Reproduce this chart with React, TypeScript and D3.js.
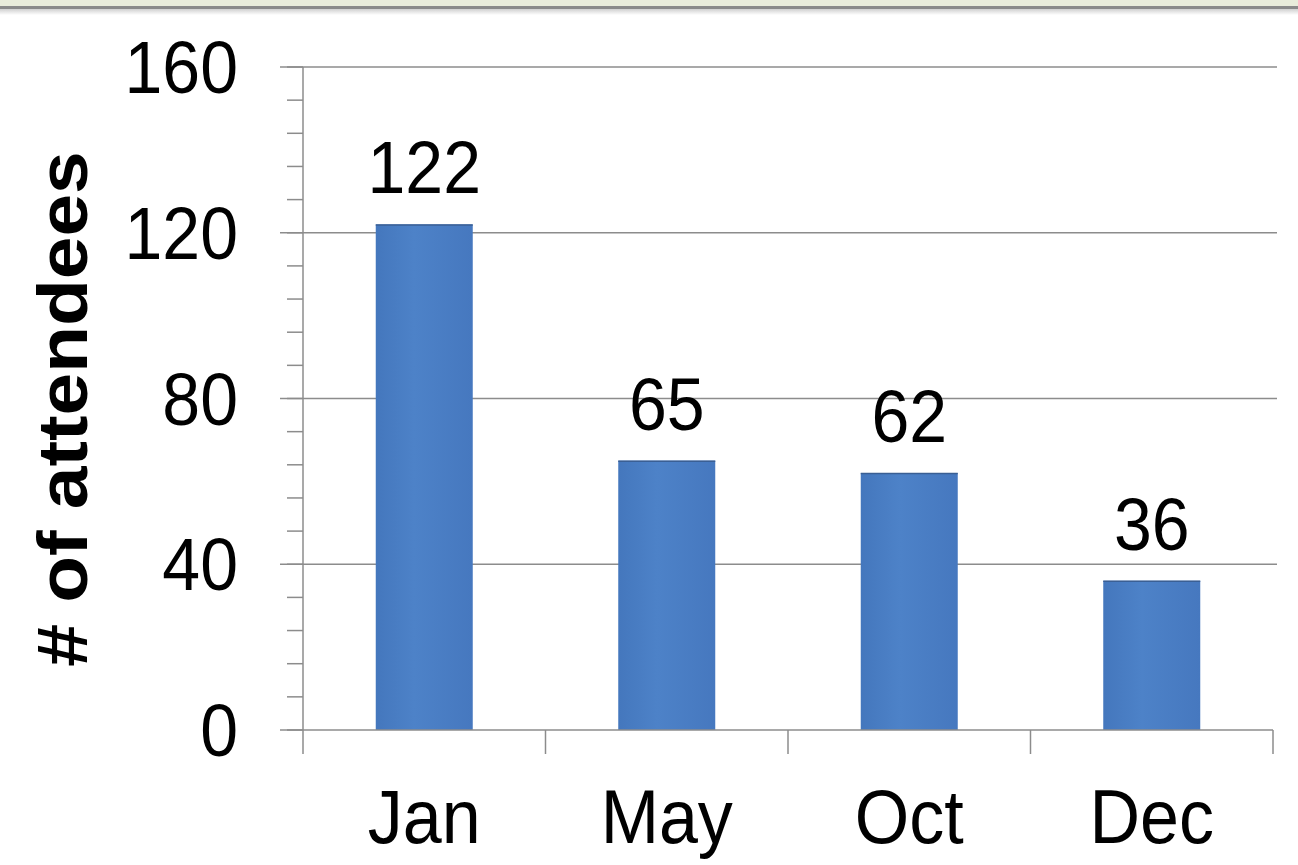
import React from "react";
import * as d3 from "d3";

const categories = ["Jan", "May", "Oct", "Dec"];
const attendees = [122, 65, 62, 36];
const yTicks = [0, 40, 80, 120, 160];
const yMinorTicks = d3.range(0, 161, 8);
const yTitle = "# of attendees";

const W = 1298;
const H = 865;
const FONT = "'Liberation Sans', Arial, sans-serif";
const SY = 1.08;

export default function App() {
  const x0 = 303, x1 = 1273, yBottom = 730, yTop = 67;
  const x = d3.scaleBand<string>().domain(categories).range([x0, x1]).paddingInner(0.6).paddingOuter(0.3);
  const y = d3.scaleLinear().domain([0, 160]).range([yBottom, yTop]);
  const step = x.step();
  const gridColor = "#8c8c8c";
  const barColor = "#4a7dc2";

  return (
    <svg width={W} height={H} style={{ position: "absolute", left: 0, top: 0, background: "#fff" }}>
      <defs>
        <linearGradient id="barGrad" x1="0" x2="1" y1="0" y2="0">
          <stop offset="0%" stopColor="#4477bd" />
          <stop offset="40%" stopColor="#4d82c8" />
          <stop offset="100%" stopColor="#4678bf" />
        </linearGradient>
        <linearGradient id="shadow" x1="0" x2="0" y1="0" y2="1">
          <stop offset="0%" stopColor="#d0d0d0" />
          <stop offset="100%" stopColor="#ffffff" />
        </linearGradient>
      </defs>
      {/* top frame strip */}
      <rect x={0} y={0} width={W} height={6} fill="#e9ecdb" />
      <rect x={0} y={6} width={W} height={3} fill="#8a8a8a" />
      <rect x={0} y={9} width={W} height={6} fill="url(#shadow)" />

      {/* gridlines */}
      {yTicks.filter((t) => t > 0).map((t) => (
        <line key={"g" + t} x1={x0} x2={1277} y1={y(t)} y2={y(t)} stroke={gridColor} strokeWidth={1.5} />
      ))}
      {/* minor ticks */}
      {yMinorTicks.map((t) => (
        <line key={"m" + t} x1={287} x2={x0} y1={y(t)} y2={y(t)} stroke={gridColor} strokeWidth={1.5} />
      ))}
      {/* major ticks */}
      {yTicks.map((t) => (
        <line key={"t" + t} x1={280} x2={x0} y1={y(t)} y2={y(t)} stroke={gridColor} strokeWidth={1.5} />
      ))}

      {/* bars */}
      {categories.map((c, i) => (
        <g key={c}>
          <rect x={x(c)} y={y(attendees[i])} width={x.bandwidth()} height={yBottom - y(attendees[i])} fill="url(#barGrad)" />
          <line x1={x(c)} x2={(x(c) as number) + x.bandwidth()} y1={y(attendees[i]) + 0.5} y2={y(attendees[i]) + 0.5} stroke="#3a5f94" strokeWidth={1.5} />
        </g>
      ))}

      {/* axes */}
      <line x1={x0} x2={x0} y1={yTop} y2={yBottom} stroke={gridColor} strokeWidth={1.5} />
      <line x1={x0} x2={x1} y1={yBottom} y2={yBottom} stroke={gridColor} strokeWidth={1.5} />
      {d3.range(categories.length + 1).map((i) => (
        <line key={"xt" + i} x1={x0 + i * step} x2={x0 + i * step} y1={yBottom} y2={754} stroke={gridColor} strokeWidth={1.5} />
      ))}

      {/* y tick labels */}
      {yTicks.map((t) => (
        <text key={"yl" + t} transform={`translate(238,${y(t) + 26}) scale(1,${SY})`} textAnchor="end" fontFamily={FONT} fontSize={68} fill="#000">
          {t}
        </text>
      ))}

      {/* value labels */}
      {categories.map((c, i) => (
        <text key={"v" + c} transform={`translate(${(x(c) as number) + x.bandwidth() / 2},${y(attendees[i]) - 31}) scale(1,${SY})`} textAnchor="middle" fontFamily={FONT} fontSize={68} fill="#000">
          {attendees[i]}
        </text>
      ))}

      {/* category labels */}
      {categories.map((c) => (
        <text key={"c" + c} transform={`translate(${(x(c) as number) + x.bandwidth() / 2},843) scale(1,${SY})`} textAnchor="middle" fontFamily={FONT} fontSize={70} fill="#000">
          {c}
        </text>
      ))}

      {/* y title */}
      <text transform={`translate(87,409) rotate(-90) scale(${SY},1)`} textAnchor="middle" fontFamily={FONT} fontSize={71} fontWeight="bold" fill="#000">
        {yTitle}
      </text>
    </svg>
  );
}
